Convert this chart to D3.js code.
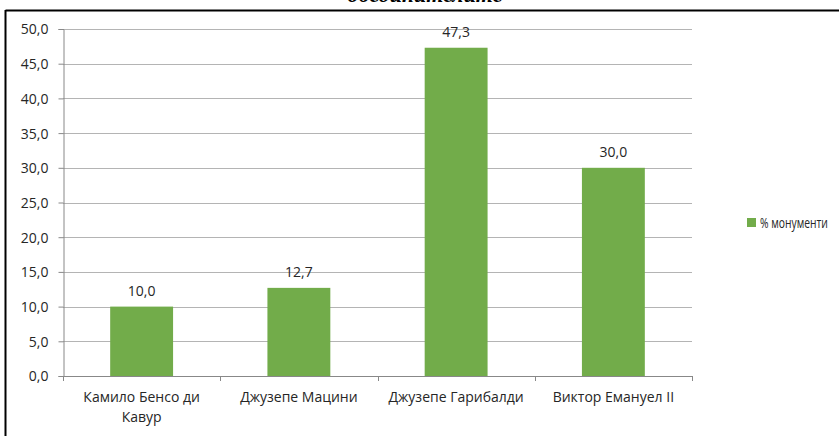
<!DOCTYPE html>
<html>
<head>
<meta charset="utf-8">
<script src="https://cdn.jsdelivr.net/npm/d3@7"></script>
<style>
  html, body { margin: 0; padding: 0; background: #fff; }
  svg { display: block; }
  text { font-family: "Open Sans", "Noto Sans", sans-serif; fill: #262626; }
</style>
</head>
<body>
<svg id="chart" width="839" height="436"></svg>
<script>
// Share of monuments per figure of the Italian unification
const categories = [["Камило Бенсо ди", "Кавур"], ["Джузепе Мацини"], ["Джузепе Гарибалди"], ["Виктор Емануел II"]];
const values = [10.0, 12.7, 47.3, 30.0];
const yTicks = [0, 5, 10, 15, 20, 25, 30, 35, 40, 45, 50];
const seriesName = "% монументи";
const titleText = "обединителите";

const svg = d3.select("#chart");
const W = 839, H = 436;
const margin = { left: 63, right: 147, top: 29, bottom: 60 };
const plotW = W - margin.left - margin.right;
const plotH = H - margin.top - margin.bottom;
const fs = "14px";

const fmt = v => v.toFixed(1).replace(".", ",");

// Outer frame (top and left edges only are inside the view)
svg.append("line").attr("x1", 5.5).attr("x2", W).attr("y1", 10.5).attr("y2", 10.5)
  .attr("stroke", "#000").attr("stroke-width", 2);
svg.append("line").attr("x1", 5.5).attr("x2", 5.5).attr("y1", 10).attr("y2", H)
  .attr("stroke", "#000").attr("stroke-width", 2);

// Title, mostly above the view
svg.append("text").attr("x", 425).attr("y", 2)
  .attr("text-anchor", "middle")
  .style("font-family", "'Liberation Serif', serif")
  .style("font-weight", "bold").style("font-style", "italic")
  .style("font-size", "22px").style("fill", "#000")
  .text(titleText);

const g = svg.append("g").attr("transform", `translate(${margin.left},${margin.top})`);

const x = d3.scaleBand().domain(d3.range(values.length)).range([0, plotW]).paddingInner(0.6).paddingOuter(0.3);
const xBand = d3.scaleBand().domain(d3.range(values.length)).range([0, plotW]);
const y = d3.scaleLinear().domain([0, 50]).range([plotH, 0]);

// Gridlines
g.append("g").selectAll("line").data(yTicks.slice(1)).join("line")
  .attr("x1", 0).attr("x2", plotW)
  .attr("y1", d => Math.round(y(d)) + 0.5).attr("y2", d => Math.round(y(d)) + 0.5)
  .attr("stroke", "#b4b4b4").attr("stroke-width", 1);

// Y axis
const yAxis = d3.axisLeft(y).tickValues(yTicks).tickFormat(fmt).tickSize(5).tickPadding(10);
const ya = g.append("g").attr("transform", "translate(0.5,0)").call(yAxis);
ya.select(".domain").attr("stroke", "#888");
ya.selectAll(".tick line").attr("stroke", "#888");
ya.selectAll(".tick text").style("font-size", fs).style("font-family", "'Open Sans', sans-serif")
  .style("fill", "#262626").attr("dy", "0.35em");

// Bars
g.append("g").selectAll("rect").data(values).join("rect")
  .attr("x", (d, i) => x(i)).attr("width", x.bandwidth())
  .attr("y", d => y(d)).attr("height", d => plotH - y(d))
  .attr("fill", "#72ac4a");

// Value labels
g.append("g").selectAll("text").data(values).join("text")
  .attr("x", (d, i) => x(i) + x.bandwidth() / 2)
  .attr("y", d => y(d) - 11)
  .attr("text-anchor", "middle").style("font-size", fs)
  .text(fmt);

// X axis line and category separators
g.append("line").attr("x1", 0).attr("x2", plotW).attr("y1", plotH + 0.5).attr("y2", plotH + 0.5)
  .attr("stroke", "#888");
g.append("g").selectAll("line").data(d3.range(values.length + 1)).join("line")
  .attr("x1", i => Math.round(i * xBand.step()) + 0.5).attr("x2", i => Math.round(i * xBand.step()) + 0.5)
  .attr("y1", plotH).attr("y2", plotH + 5).attr("stroke", "#888");

// Category labels
const cl = g.append("g").selectAll("text").data(categories).join("text")
  .attr("x", (d, i) => xBand(i) + xBand.bandwidth() / 2)
  .attr("y", plotH + 26)
  .attr("text-anchor", "middle").style("font-size", fs);
cl.selectAll("tspan").data(d => d).join("tspan")
  .attr("x", function () { return this.parentNode.getAttribute("x"); })
  .attr("dy", (d, i) => i === 0 ? 0 : 20)
  .text(d => d);

// Legend: the label is narrowed horizontally so it fits the space right of the swatch
const lg = svg.append("g").attr("transform", "translate(747,218)");
lg.append("rect").attr("width", 9).attr("height", 9).attr("fill", "#72ac4a");
const legendLabel = lg.append("text").attr("y", 10).style("font-size", "14px").text(seriesName);
const natural = legendLabel.node().getComputedTextLength();
const kx = Math.min(1, 68 / natural);
legendLabel.attr("transform", `translate(13,0) scale(${kx},1)`);
</script>
</body>
</html>
